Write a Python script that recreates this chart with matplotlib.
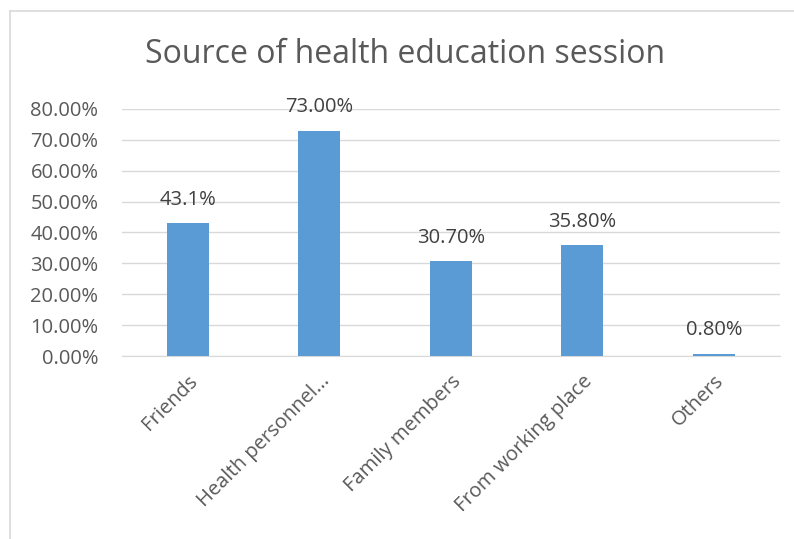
import matplotlib.pyplot as plt
from matplotlib.lines import Line2D
from matplotlib.ticker import PercentFormatter

categories = ["Friends", "Health personnel...", "Family members", "From working place", "Others"]
values = [43.1, 73.0, 30.7, 35.8, 0.8]
value_labels = ["43.1%", "73.00%", "30.70%", "35.80%", "0.80%"]

plt.rcParams['font.family'] = ['Open Sans', 'DejaVu Sans']

fig = plt.figure(figsize=(7.94, 5.39), dpi=100)
ax = fig.add_axes([0.1537, 0.3395, 0.8283, 0.4583])

x = range(len(categories))
ax.bar(x, values, width=0.32, color='#5b9bd5', zorder=3)
for i, (v, lab) in enumerate(zip(values, value_labels)):
    ax.text(i, v + 4.3, lab, ha='center', va='bottom', fontsize=14.5, color='#404040')

ax.set_xlim(-0.5, len(categories) - 0.5)
ax.set_ylim(0, 80)
ax.set_yticks(range(0, 81, 10))
ax.yaxis.set_major_formatter(PercentFormatter(decimals=2))
ax.grid(axis='y', color='#d9d9d9', linewidth=1, zorder=0)
for s in ['top', 'right', 'left']:
    ax.spines[s].set_visible(False)
ax.spines['bottom'].set_color('#d9d9d9')
ax.tick_params(axis='both', length=0, labelsize=14.5, labelcolor='#595959')
ax.tick_params(axis='y', pad=17)
ax.set_xticks(list(x))
ax.set_xticklabels(categories, rotation=45, ha='right', rotation_mode='anchor')
ax.tick_params(axis='x', pad=11)

fig.text(0.51, 0.898, "Source of health education session", ha='center', va='center',
         fontsize=23, color='#595959')

# chart frame
fig.add_artist(Line2D([0.0126, 0.0126], [0, 0.9796], color='#d9d9d9', lw=1.2))
fig.add_artist(Line2D([0.0126, 1.0], [0.9796, 0.9796], color='#d9d9d9', lw=1.2))

fig.savefig("out.png", dpi=100)
